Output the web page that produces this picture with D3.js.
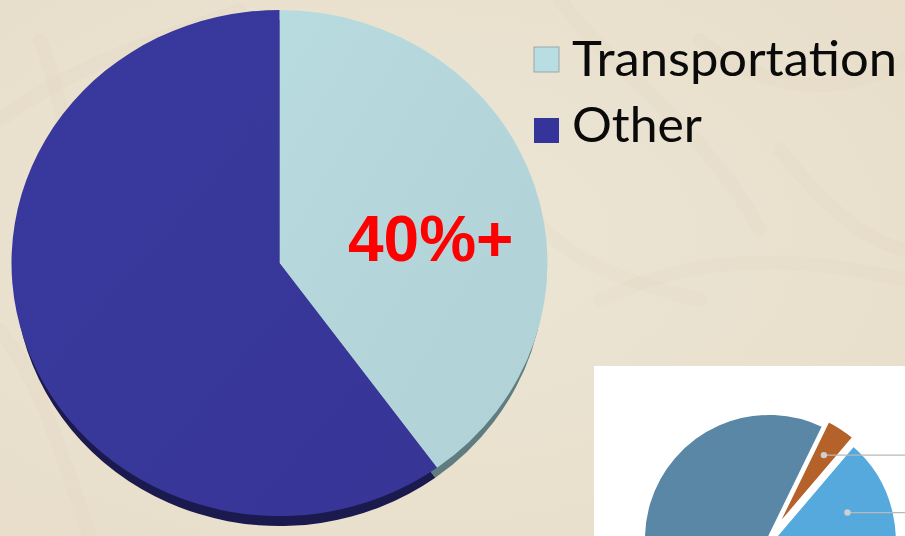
<!DOCTYPE html>
<html>
<head>
<meta charset="utf-8">
<script src="https://cdn.jsdelivr.net/npm/d3@7/dist/d3.min.js"></script>
<style>
  html, body { margin: 0; padding: 0; background: #ebe3d2; }
  svg { display: block; }
</style>
</head>
<body>
<svg id="chart" width="905" height="536"></svg>
<script>
// ---- data ----
const categories = ["Transportation", "Other"];
const values = [40, 60];
const calloutLabel = "40%+";

const insetCategories = ["Minor", "Secondary", "Major"];
const insetValues = [4, 41, 55];

// ---- styles ----
const topColors = { "Transportation": "#b4d6db", "Other": "#38379a" };
const sideColors = { "Transportation": "#5f7d80", "Other": "#1b1a4f" };
const legendColors = { "Transportation": "#b8dde2", "Other": "#35349b" };
const insetColors = { "Minor": "#b5612a", "Secondary": "#55a9dd", "Major": "#5b87a7" };

(function () {
const svg = d3.select("#chart");
const W = 905, H = 536;

// background
const defs = svg.append("defs");
const bg = defs.append("radialGradient").attr("id", "bg").attr("cx", "45%").attr("cy", "45%").attr("r", "75%");
bg.append("stop").attr("offset", "0%").attr("stop-color", "#ede6d6");
bg.append("stop").attr("offset", "100%").attr("stop-color", "#e7ddc9");
svg.append("rect").attr("width", W).attr("height", H).attr("fill", "url(#bg)");

// subtle texture strokes
const texture = [
  "M0,120 C80,60 160,40 240,10", "M560,0 C620,80 700,120 760,230", "M600,300 C680,260 780,250 905,280",
  "M0,330 C40,380 60,450 90,536", "M700,40 C760,90 840,100 905,60", "M520,200 C560,260 620,280 700,300",
  "M40,40 C70,120 80,200 60,300", "M780,150 C820,200 860,240 905,250"
];
svg.append("g").selectAll("path").data(texture).join("path")
  .attr("d", d => d).attr("fill", "none").attr("stroke", "#ddd1b9")
  .attr("stroke-width", 14).attr("stroke-opacity", 0.15).attr("stroke-linecap", "round");

// ---- main pie ----
const cx = 279.5, cy = 263, rx = 268, ry = 253, depth = 10;
const pie = d3.pie().sort(null).value(d => d.v);
const pieData = pie(categories.map((c, i) => ({ c, v: values[i] })));
const arc = d3.arc().innerRadius(0).outerRadius(ry);

const grads = {};
categories.forEach((c, i) => {
  const g = defs.append("linearGradient").attr("id", "g" + i).attr("x1", "0").attr("y1", "0").attr("x2", "1").attr("y2", "1");
  const base = d3.color(topColors[c]);
  g.append("stop").attr("offset", "0%").attr("stop-color", base.brighter(0.06));
  g.append("stop").attr("offset", "100%").attr("stop-color", base.darker(0.06));
  grads[c] = "url(#g" + i + ")";
});

// side (extrusion) - slightly narrower bottom ellipse for perspective
const sideG = svg.append("g").attr("transform", `translate(${cx},${cy + depth}) scale(${(rx - 3) / ry},1)`);
sideG.selectAll("path").data(pieData).join("path")
  .attr("d", arc).attr("fill", d => sideColors[d.data.c]);

const topG = svg.append("g").attr("transform", `translate(${cx},${cy}) scale(${rx / ry},1)`);
topG.selectAll("path").data(pieData).join("path")
  .attr("d", arc).attr("fill", d => grads[d.data.c]);

// callout label
svg.append("text").attr("x", 348).attr("y", 261)
  .attr("font-family", "Liberation Sans, Arial, sans-serif").attr("font-weight", "bold")
  .attr("font-size", 64).attr("fill", "#ff0000").text(calloutLabel);

// ---- legend ----
const legend = svg.append("g");
const legendY = [47, 118];
const legendTextY = [76, 142];
const legendWidths = [325, 130];
categories.forEach((c, i) => {
  legend.append("rect").attr("x", 534).attr("y", legendY[i]).attr("width", 25).attr("height", 25)
    .attr("fill", legendColors[c])
    .attr("stroke", i === 0 ? "#9aa7a8" : "none").attr("stroke-width", 1);
  legend.append("text").attr("x", 572).attr("y", legendTextY[i])
    .attr("font-family", "Lato, 'Open Sans', sans-serif").attr("font-size", 48).attr("font-weight", 400)
    .attr("fill", "#0a0a0a").text(c)
    .attr("textLength", legendWidths[i]).attr("lengthAdjust", "spacingAndGlyphs");
});

// ---- inset picture ----
const inset = svg.append("g");
inset.append("rect").attr("x", 594).attr("y", 366).attr("width", W - 594).attr("height", H - 366).attr("fill", "#ffffff");
defs.append("clipPath").attr("id", "insetClip").append("rect")
  .attr("x", 594).attr("y", 366).attr("width", W - 594).attr("height", H - 366);
const ig = inset.append("g").attr("clip-path", "url(#insetClip)");
const icx = 769, icy = 539, ir = 126;
const ipie = d3.pie().sort(null).value(d => d.v).startAngle(26 * Math.PI / 180).endAngle(386 * Math.PI / 180);
const ipData = ipie(insetCategories.map((c, i) => ({ c, v: insetValues[i] })));
const iarc = d3.arc().innerRadius(0).outerRadius(ir);
const offOf = c => c === "Minor" ? 7 : (c === "Secondary" ? 3 : 0);
ig.selectAll("path").data(ipData).join("path")
  .attr("transform", d => {
    const a = (d.startAngle + d.endAngle) / 2;
    const off = offOf(d.data.c);
    return `translate(${icx + Math.sin(a) * off},${icy - Math.cos(a) * off})`;
  })
  .attr("d", iarc).attr("fill", d => insetColors[d.data.c])
  .attr("stroke", "#fff").attr("stroke-width", 4).attr("stroke-linejoin", "round");

// leader lines
const leaderRadius = { "Minor": 0.74, "Secondary": 0.64 };
const leaders = ipData.filter(d => d.data.c !== "Major").map(d => {
  const a = d.data.c === "Minor" ? (d.startAngle + d.endAngle) / 2 : d.startAngle + (d.endAngle - d.startAngle) * 0.2;
  const r = ir * leaderRadius[d.data.c];
  const mid = (d.startAngle + d.endAngle) / 2;
  const off = offOf(d.data.c);
  return [icx + Math.sin(a) * r + Math.sin(mid) * off, icy - Math.cos(a) * r - Math.cos(mid) * off];
});
ig.selectAll("line").data(leaders).join("line")
  .attr("x1", d => d[0]).attr("y1", d => d[1]).attr("x2", W).attr("y2", d => d[1])
  .attr("stroke", "#b9b9b9").attr("stroke-width", 1.2);
ig.selectAll("circle").data(leaders).join("circle")
  .attr("cx", d => d[0]).attr("cy", d => d[1]).attr("r", 3.2).attr("fill", "#cfcfcf");
})();
</script>
</body>
</html>
